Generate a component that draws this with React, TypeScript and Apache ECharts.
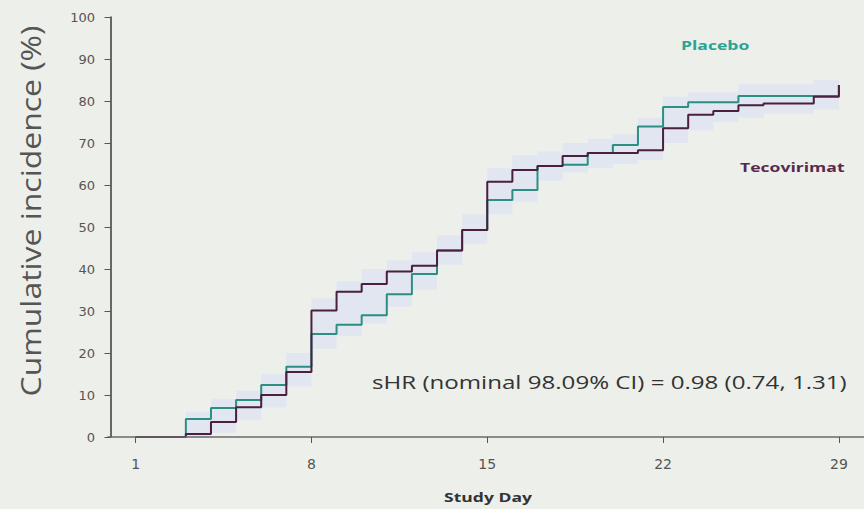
import React, { useEffect, useRef } from "react";
import * as echarts from "echarts";

const placeboDays = [1, 3, 4, 5, 6, 7, 8, 9, 10, 11, 12, 13, 14, 15, 16, 17, 18, 19, 20, 21, 22, 23, 25, 29];
const placeboValues = [0, 4.3, 6.9, 8.8, 12.4, 16.7, 24.5, 26.7, 29, 34, 38.8, 44.4, 49.3, 56.4, 58.8, 64.5, 64.8, 67.6, 69.5, 73.9, 78.6, 79.7, 81.2, 83.8];

const tecoDays = [1, 3, 4, 5, 6, 7, 8, 9, 10, 11, 12, 13, 14, 15, 16, 17, 18, 19, 21, 22, 23, 24, 25, 26, 28, 29];
const tecoValues = [0, 0.7, 3.6, 7.1, 10, 15.5, 30.1, 34.6, 36.4, 39.4, 40.8, 44.4, 49.3, 60.8, 63.6, 64.5, 66.9, 67.6, 68.3, 73.5, 76.7, 77.6, 79, 79.4, 81, 83.8];

const bandDays = [1, 3, 4, 5, 6, 7, 8, 9, 10, 11, 12, 13, 14, 15, 16, 17, 18, 19, 20, 21, 22, 23, 24, 25, 26, 27, 28, 29];
const bandLower = [0, 0, 1, 4, 7, 12, 21, 24, 27, 31, 35, 41, 46, 53, 56, 61, 63, 64, 65, 66, 70, 73, 75, 76, 77, 77, 78, 80];
const bandUpper = [0, 6, 9, 11, 15, 20, 33, 37, 40, 42, 44, 48, 53, 64, 67, 68, 70, 71, 72, 76, 81, 82, 82, 84, 84, 84, 85, 86];

const xTicks = [1, 8, 15, 22, 29];

const placeboName = "Placebo";
const tecoName = "Tecovirimat";
const annotation = "sHR (nominal 98.09% CI) = 0.98 (0.74, 1.31)";
const xTitle = "Study Day";
const yTitle = "Cumulative incidence (%)";

const BG = "#edefea";

export default function App() {
  const ref = useRef<HTMLDivElement>(null);
  useEffect(() => {
    if (!ref.current) return;
    const chart = echarts.init(ref.current, undefined, { renderer: "svg" });
    const font = "'Open Sans', 'Noto Sans', sans-serif";
    const tickFont = "'DejaVu Sans', sans-serif";
    chart.setOption({
      animation: false,
      backgroundColor: BG,
      textStyle: { fontFamily: font },
      grid: { left: 108, right: 0, top: 17, bottom: 72 },
      xAxis: {
        type: "value",
        min: -0.1,
        max: 30,
        z: 10,
        axisLine: { show: true, lineStyle: { color: "#6a6a6a", width: 1.5 } },
        axisTick: { show: true, customValues: xTicks, length: 6, lineStyle: { color: "#555" } },
        axisLabel: { customValues: xTicks, fontSize: 14, color: "#555", margin: 20, fontFamily: tickFont },
        splitLine: { show: false },
      },
      yAxis: {
        type: "value",
        min: 0,
        max: 100,
        interval: 10,
        z: 10,
        axisLine: { show: true, lineStyle: { color: "#3a3a3a", width: 1.5 } },
        axisTick: { show: true, length: 6, lineStyle: { color: "#555" } },
        axisLabel: { fontSize: 13, color: "#555", margin: 13, fontFamily: tickFont },
        splitLine: { show: false },
      },
      series: [
        {
          type: "line",
          step: "end",
          symbol: "none",
          lineStyle: { opacity: 0 },
          areaStyle: { color: "#e1e6f0", opacity: 1 },
          data: bandDays.map((d, i) => [d, bandUpper[i]]),
          silent: true,
          z: 1,
        },
        {
          type: "line",
          step: "end",
          symbol: "none",
          lineStyle: { opacity: 0 },
          areaStyle: { color: BG, opacity: 1 },
          data: bandDays.map((d, i) => [d, bandLower[i]]),
          silent: true,
          z: 1,
        },
        {
          name: placeboName,
          type: "line",
          step: "end",
          symbol: "none",
          lineStyle: { color: "#2b8f84", width: 2 },
          data: placeboDays.map((d, i) => [d, placeboValues[i]]),
          z: 3,
        },
        {
          name: tecoName,
          type: "line",
          step: "end",
          symbol: "none",
          lineStyle: { color: "#4a1f3f", width: 2 },
          data: tecoDays.map((d, i) => [d, tecoValues[i]]),
          z: 4,
        },
      ],
      graphic: [
        {
          type: "text",
          z: 100,
          x: 681,
          y: 45,
          scaleX: 1.35,
          style: { text: placeboName, fontSize: 13, fontWeight: "bold", fill: "#2aa394", fontFamily: font, verticalAlign: "middle" },
        },
        {
          type: "text",
          z: 100,
          x: 740,
          y: 167,
          scaleX: 1.35,
          style: { text: tecoName, fontSize: 13, fontWeight: "bold", fill: "#5a2a4e", fontFamily: font, verticalAlign: "middle" },
        },
        {
          type: "text",
          z: 100,
          x: 372,
          y: 382,
          scaleX: 1.34,
          style: { text: annotation, fontSize: 18, fill: "#333", fontFamily: font, verticalAlign: "middle" },
        },
        {
          type: "text",
          z: 100,
          x: 488,
          y: 497,
          scaleX: 1.35,
          style: { text: xTitle, fontSize: 13, fontWeight: "bold", fill: "#333", fontFamily: font, align: "center", verticalAlign: "middle" },
        },
        {
          type: "text",
          z: 100,
          x: 30,
          y: 211,
          rotation: Math.PI / 2,
          scaleX: 1.14,
          style: { text: yTitle, fontSize: 28, fill: "#555", fontFamily: font, align: "center", verticalAlign: "middle" },
        },
      ],
    });
    return () => chart.dispose();
  }, []);
  return <div ref={ref} style={{ position: "absolute", left: 0, top: 0, width: 864, height: 509 }} />;
}
